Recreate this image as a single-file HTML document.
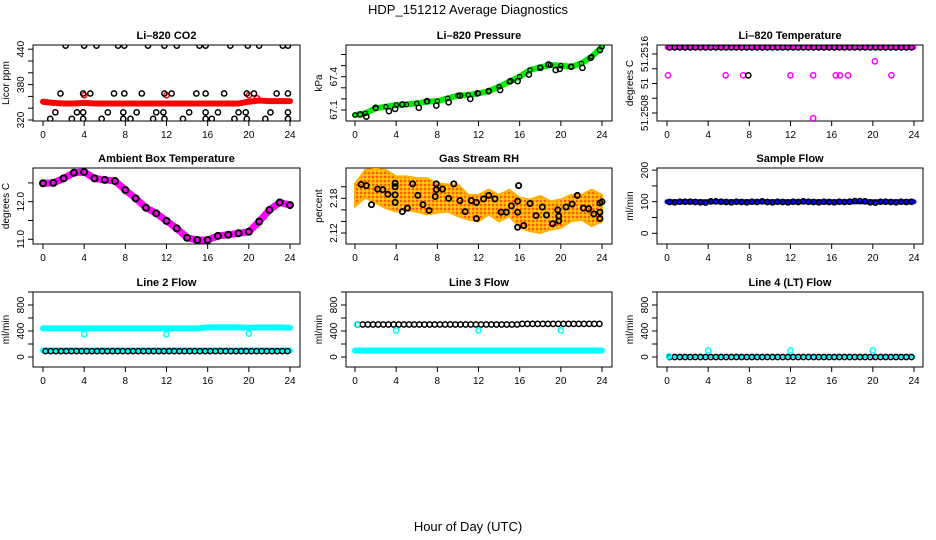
<!DOCTYPE html>
<html><head><meta charset="utf-8"><style>
body{margin:0;background:#fff;}
svg{display:block;font-family:"Liberation Sans",sans-serif;}
</style></head><body>
<svg id="c" width="936" height="540" viewBox="0 0 936 540">
<defs>
<pattern id="orng" width="4" height="4" patternUnits="userSpaceOnUse">
<rect width="4" height="4" fill="#ffb000"/><circle cx="1" cy="1" r="0.9" fill="#ff2000"/><circle cx="3" cy="3" r="0.9" fill="#ffe000"/>
</pattern>
</defs>
<text x="468" y="14" text-anchor="middle" font-size="13">HDP_151212  Average Diagnostics</text>
<text x="468" y="531" text-anchor="middle" font-size="13">Hour of Day (UTC)</text>
</svg>
<script>
// ---- data ----
const hourly = [0,1,2,3,4,5,6,7,8,9,10,11,12,13,14,15,16,17,18,19,20,21,22,23,24];
const xTicks = [0,4,8,12,16,20,24];
const co2Red = [351,349,348,348,349,348,348,348,348,348,348,348,348,348,348,348,348,348,348,348,351,353,352,352,352];
const co2RedOutH = [4,12,20,20.8];
const co2RedOutV = [362,362,362,357];
const co2BlackH = [2.2,4,5.2,7.3,7.9,10.2,11.8,13,15.2,15.8,18.2,19.9,21,23.3,23.8, 1.7,3.9,4.6,6.9,7.9,9.6,11.8,12.5,14.9,15.8,17.6,19.8,20.5,22.7,23.8, 1.2,3.3,3.9,6.3,7.8,9.1,11,11.7,14.2,15.8,17,19,19.7,22.1,23.8, 0.7,2.8,3.9,5.7,7.8,8.5,10.7,11.8,13.6,15.8,16.4,18.6,19.8,21.6,23.8];
const co2BlackV = [446,446,446,446,446,446,446,446,446,446,446,446,446,446,446, 365,365,365,365,365,365,365,365,365,365,365,365,365,365,365, 333,333,333,333,333,333,333,333,333,333,333,333,333,333,333, 322,322,322,322,322,322,322,322,322,322,322,322,322,322,322];
const pressGreen = [67.055,67.07,67.115,67.13,67.145,67.15,67.16,67.175,67.18,67.205,67.23,67.235,67.25,67.27,67.31,67.355,67.4,67.46,67.485,67.505,67.5,67.49,67.52,67.58,67.67];
const pressBlackH = [0.5,1.1,2,3.3,3.9,4.6,6.2,7,7.9,9.1,10.2,11.2,11.9,13,14.1,15.1,15.8,16.9,18,18.8,19.5,19.9,21,22.1,22.9,23.8];
const pressBlackV = [67.06,67.04,67.12,67.09,67.11,67.15,67.12,67.18,67.14,67.17,67.23,67.2,67.25,67.27,67.28,67.36,67.36,67.42,67.48,67.51,67.46,67.47,67.49,67.48,67.57,67.64];
const tempMain = [51.25169,51.25169,51.25169,51.25169,51.25169,51.25169,51.25169,51.25169,51.25169,51.25169,51.25169,51.25169,51.25169,51.25169,51.25169,51.25169,51.25169,51.25169,51.25169,51.25169,51.25169,51.25169,51.25169,51.25169,51.25169];
const tempOutH = [0.1,5.7,7.4,12,14.2,16.4,16.8,17.6,21.8,20.2,14.2];
const tempOutV = [51.25131,51.25131,51.25131,51.25131,51.25131,51.25131,51.25131,51.25131,51.25131,51.25150,51.25073];
const tempBlackOutH = [7.9];
const tempBlackOutV = [51.25131];
const ambient = [12.49,12.5,12.62,12.77,12.79,12.62,12.58,12.55,12.31,12.09,11.84,11.69,11.49,11.29,11.04,10.98,10.98,11.09,11.12,11.16,11.2,11.47,11.78,11.98,11.91];
const rhHi = [2.205,2.229,2.231,2.229,2.218,2.218,2.215,2.215,2.206,2.204,2.204,2.186,2.186,2.195,2.186,2.195,2.181,2.178,2.184,2.175,2.178,2.186,2.186,2.195,2.186];
const rhLo = [2.166,2.181,2.172,2.163,2.157,2.16,2.157,2.152,2.155,2.157,2.149,2.143,2.14,2.152,2.14,2.149,2.129,2.123,2.12,2.126,2.129,2.14,2.143,2.132,2.14];
const rhBlackH = [0.6,1.1,1.6,2.2,2.7,3.2,3.9,3.9,3.9,3.9,4.6,5.1,5.6,6.1,6.6,7.2,7.8,7.9,7.9,8.5,9.1,9.6,10.2,10.7,11.3,11.8,11.8,12.5,13,13.6,14.2,14.7,15.2,15.8,15.8,15.8,15.9,16.4,17,17.6,18.2,18.6,19.2,19.7,19.8,19.8,20.5,21.1,21.6,22.2,22.7,23.2,23.8,23.8,23.8,24];
const rhBlackV = [2.204,2.202,2.169,2.196,2.195,2.187,2.206,2.2,2.186,2.173,2.157,2.163,2.205,2.185,2.169,2.159,2.183,2.195,2.205,2.196,2.18,2.205,2.176,2.157,2.176,2.173,2.145,2.179,2.185,2.179,2.156,2.156,2.167,2.156,2.175,2.13,2.202,2.133,2.171,2.15,2.165,2.151,2.136,2.16,2.149,2.141,2.165,2.17,2.185,2.163,2.162,2.153,2.172,2.156,2.145,2.174];
const sampleBlue = [100,100,100,100,100,100,100,100,100,100,100,100,100,100,100,100,100,100,100,100,100,100,100,100,100];
const sampleBlack = [99,98,100,100,100,99,98,97,101,101,100,99,98,100,99,98,100,99,101,99,98,100,99,98,100,99,101,100,99,98,100,99,98,100,99,100,102,102,101,98,97,100,100,99,98,100,99,100];
const l2CyanTop = [440,440,440,440,440,440,440,440,440,440,440,440,440,440,440,440,455,455,455,455,450,455,455,455,450];
const l2CyanBot = [100,100,100,100,100,100,100,100,100,100,100,100,100,100,100,100,100,100,100,100,100,100,100,100,100];
const l2Black = [90,90,90,90,90,90,90,90,90,90,90,90,90,90,90,90,90,90,90,90,90,90,90,90,90,90,90,90,90,90,90,90,90,90,90,90,90,90,90,90,90,90,90,90,90,90,90,90];
const l2OutH = [4,12,20];
const l2OutV = [350,350,360];
const l3CyanBot = [100,100,100,100,100,100,100,100,100,100,100,100,100,100,100,100,100,100,100,100,100,100,100,100,100];
const l3Black = [500,500,500,500,500,500,500,500,500,500,500,500,500,500,500,500,500,500,500,500,500,500,500,500,500,500,500,500,500,500,500,500,510,510,510,510,510,510,510,510,510,510,510,510,510,510,510,510];
const l3OutH = [0.2,4,12,20];
const l3OutV = [500,410,410,410];
const l4Cyan = [5,5,5,5,5,5,5,5,5,5,5,5,5,5,5,5,5,5,5,5,5,5,5,5,5];
const l4Black = [0,0,0,0,0,0,0,0,0,0,0,0,0,0,0,0,0,0,0,0,0,0,0,0,0,0,0,0,0,0,0,0,0,0,0,0,0,0,0,0,0,0,0,0,0,0,0,0];
const l4OutH = [0.2,4,12,20];
const l4OutV = [10,100,100,100];

// ---- layout ----
const NS='http://www.w3.org/2000/svg';
const svg=document.getElementById('c');
const colL=[33,346,657], colR=[300,612,923], colX0=[43,355,667];
const rowT=[45,168,292], rowB=[121,244,367];
const halfHours=[]; for(let i=0;i<48;i++) halfHours.push(0.25+i*0.5);
function mk(tag,attrs,parent){const e=document.createElementNS(NS,tag);for(const k in attrs)e.setAttribute(k,attrs[k]);(parent||svg).appendChild(e);return e;}

function panel(o){
  const g=mk('g',{});
  
  
  const L=colL[o.c],R=colR[o.c],T=rowT[o.r],B=rowB[o.r];
  const xs=h=>colX0[o.c]+h*247/24;
  const ys=v=>o.y0-(v-o.v0)*o.k;
  o.xs=xs;o.ys=ys;o.g=g;
  const t=mk('text',{x:(L+R)/2,y:T-6,'text-anchor':'middle','font-size':11,'font-weight':'bold'},g);
  t.textContent=o.title;
  
  
  const box=mk('rect',{x:L,y:T,width:R-L,height:B-T,fill:'none',stroke:'#000','stroke-width':1},g);
  
  
  const xa=mk('g',{},g);
  
  
  mk('line',{x1:xs(0),x2:xs(24),y1:B,y2:B,stroke:'#000'},xa);
  xTicks.forEach(h=>{mk('line',{x1:xs(h),x2:xs(h),y1:B,y2:B+5,stroke:'#000'},xa);
    const tt=mk('text',{x:xs(h),y:B+17,'text-anchor':'middle','font-size':10},xa);tt.textContent=h;});
  const ya=mk('g',{},g);
  
  
  const yt=o.ticks.map(ys);
  mk('line',{x1:L,x2:L,y1:Math.min(...yt),y2:Math.max(...yt),stroke:'#000'},ya);
  o.ticks.forEach(v=>mk('line',{x1:L-5,x2:L,y1:ys(v),y2:ys(v),stroke:'#000'},ya));
  o.labels.forEach((lb,i)=>{const y=ys(o.labelVals[i]);const tt=mk('text',{x:L-9,y:y,'text-anchor':'middle','font-size':10,transform:`rotate(-90 ${L-9} ${y})`},ya);tt.textContent=lb;});
  const at=mk('text',{x:L-24,y:(T+B)/2,'text-anchor':'middle','font-size':10,transform:`rotate(-90 ${L-24} ${(T+B)/2})`},g);
  at.textContent=o.ytitle;
  
  
  const clip=mk('clipPath',{id:'cl'+o.name},svg);
  mk('rect',{x:L,y:T,width:R-L,height:B-T},clip);
  o.pg=mk('g',{'clip-path':`url(#cl${o.name})`},g);
  return o;
}
function band(o,hs,vs,color,w,name){
  const p=mk('polyline',{points:hs.map((h,i)=>o.xs(h)+','+o.ys(vs[i])).join(' '),fill:'none',stroke:color,'stroke-width':w,'stroke-linejoin':'round','stroke-linecap':'round'},o.pg);
  
  
}
function pts(o,hs,vs,color,name,r,sw){
  const g=mk('g',{},o.pg);
  
  
  hs.forEach((h,i)=>{const c=mk('circle',{cx:o.xs(h),cy:o.ys(vs[i]),r:r||2.6,fill:'none',stroke:color,'stroke-width':sw||1.5},g);
    
    });
}
function rng(a,b,s){const r=[];for(let v=a;v<=b+1e-9;v+=s)r.push(+v.toFixed(6));return r;}

// CO2
let p=panel({name:'co2',c:0,r:0,title:'Li–820 CO2',ytitle:'Licor ppm',v0:320,y0:120,k:0.59,ticks:rng(320,440,20),labels:['320','380','440'],labelVals:[320,380,440]});
band(p,hourly,co2Red,'#ff0000',6,'co2-red-series');
pts(p,co2RedOutH,co2RedOutV,'#ff0000','co2-red-outliers');
pts(p,co2BlackH,co2BlackV,'#000','co2-black-series');
// Pressure
p=panel({name:'pressure',c:1,r:0,title:'Li–820 Pressure',ytitle:'kPa',v0:67.1,y0:110,k:111,ticks:rng(67.1,67.6,0.1),labels:['67.1','67.4'],labelVals:[67.1,67.4]});
band(p,hourly,pressGreen,'#00ee00',6,'pressure-green-series');
pts(p,pressBlackH,pressBlackV,'#000','pressure-black-series');
pts(p,hourly,pressGreen,'#000','pressure-black-hourly',2.2,1.2);
// Temperature
p=panel({name:'li820-temp',c:2,r:0,title:'Li–820 Temperature',ytitle:'degrees C',v0:51.2508,y0:113,k:73750,ticks:rng(51.2508,51.2516,0.0002),labels:['51.2508','51','51.2516'],labelVals:[51.2508,51.2512,51.2516]});
band(p,hourly,tempMain,'#ff00ff',5,'temp-magenta-series');
pts(p,halfHours,halfHours.map((h,i)=>tempMain[Math.round(h)]),'#000','temp-black-series');
pts(p,tempOutH,tempOutV,'#ff00ff','temp-magenta-outliers');
pts(p,tempBlackOutH,tempBlackOutV,'#000','temp-black-outliers');
// Ambient
p=panel({name:'ambient',c:0,r:1,title:'Ambient Box Temperature',ytitle:'degrees C',v0:11,y0:239.3,k:37.6,ticks:[11,11.5,12,12.5],labels:['11.0','12.0'],labelVals:[11,12]});
band(p,hourly,ambient,'#ff00ff',7,'ambient-magenta-series');
pts(p,hourly,ambient,'#000','ambient-black-series',3,2);
// RH
p=panel({name:'rh',c:1,r:1,title:'Gas Stream RH',ytitle:'percent',v0:2.12,y0:233,k:578,ticks:rng(2.12,2.2,0.02),labels:['2.12','2.18'],labelVals:[2.12,2.18]});
(function(){const poly=mk('polygon',{points:hourly.map((h,i)=>p.xs(h)+','+p.ys(rhHi[i])).concat(hourly.slice().reverse().map(h=>p.xs(h)+','+p.ys(rhLo[hourly.indexOf(h)]))).join(' '),fill:'url(#orng)',stroke:'#ffb000','stroke-width':2},p.pg);

})();
pts(p,rhBlackH,rhBlackV,'#000','rh-black-series',2.6,1.8);
// Sample flow
p=panel({name:'sample-flow',c:2,r:1,title:'Sample Flow',ytitle:'ml/min',v0:0,y0:233.3,k:0.316,ticks:[0,50,100,150,200],labels:['0','100','200'],labelVals:[0,100,200]});
band(p,hourly,sampleBlue,'#0000ff',5,'sample-blue-series');
pts(p,halfHours,sampleBlack,'#000','sample-black-series');
// Line 2
const fl={v0:0,y0:357,k:0.065,ticks:[0,200,400,600,800,1000],labels:['0','400','800'],labelVals:[0,400,800],ytitle:'ml/min'};
p=panel(Object.assign({name:'line2',c:0,r:2,title:'Line 2 Flow'},fl));
band(p,hourly,l2CyanTop,'#00ffff',6,'line2-cyan-top-series');
band(p,hourly,l2CyanBot,'#00ffff',6,'line2-cyan-bottom-series');
pts(p,halfHours,l2Black,'#000','line2-black-series');
pts(p,l2OutH,l2OutV,'#00ffff','line2-cyan-outliers');
// Line 3
p=panel(Object.assign({name:'line3',c:1,r:2,title:'Line 3 Flow'},fl));
band(p,hourly,l3CyanBot,'#00ffff',6,'line3-cyan-series');
pts(p,halfHours,l3Black,'#000','line3-black-series');
pts(p,l3OutH,l3OutV,'#00ffff','line3-cyan-outliers');
// Line 4
p=panel(Object.assign({name:'line4',c:2,r:2,title:'Line 4 (LT) Flow'},fl));
band(p,hourly,l4Cyan,'#00ffff',3,'line4-cyan-series');
pts(p,halfHours,l4Black,'#000','line4-black-series');
pts(p,l4OutH,l4OutV,'#00ffff','line4-cyan-outliers');
</script>
</body></html>
